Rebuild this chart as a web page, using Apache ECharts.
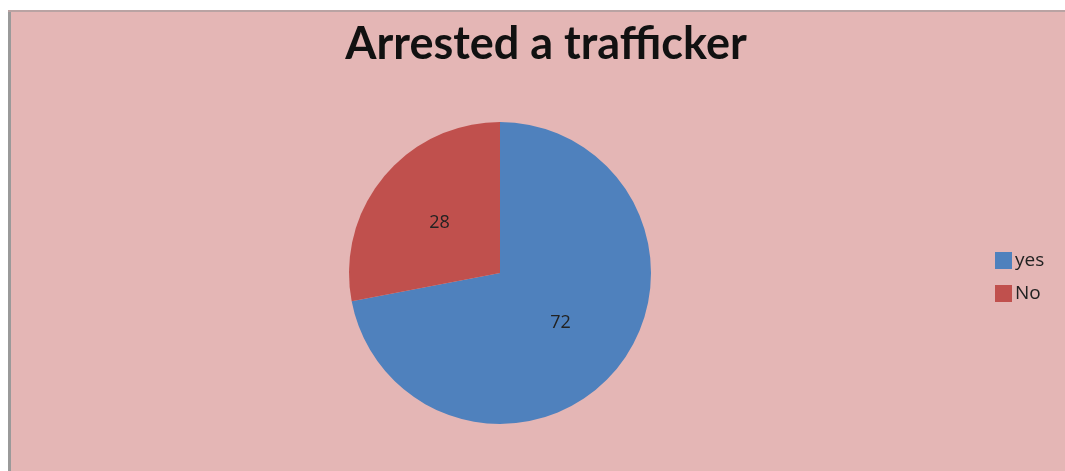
<!DOCTYPE html>
<html>
<head>
<meta charset="utf-8">
<script src="https://cdn.jsdelivr.net/npm/echarts@6/dist/echarts.min.js"></script>
<style>
  html, body { margin: 0; padding: 0; background: #ffffff; }
  #chart { width: 1065px; height: 471px; }
</style>
</head>
<body>
<div id="chart"></div>
<script>
// Survey answers: did the respondent arrest a trafficker?
const categories = ['yes', 'No'];
const values = [72, 28];
const sliceColors = ['#4F81BD', '#C0504D'];

const chart = echarts.init(document.getElementById('chart'));

chart.setOption({
  backgroundColor: '#ffffff',
  animation: false,
  graphic: [
    // panel fill
    { type: 'rect', shape: { x: 9, y: 10, width: 1056, height: 461 }, style: { fill: '#E4B6B5' }, z: -10 },
    // panel edges
    { type: 'rect', shape: { x: 8, y: 10, width: 3, height: 461 }, style: { fill: '#9a9a9a' }, z: -9 },
    { type: 'rect', shape: { x: 8, y: 10, width: 1057, height: 2 }, style: { fill: '#b9a3a3' }, z: -9 }
  ],
  title: {
    text: 'Arrested a trafficker',
    left: 541,
    textAlign: 'center',
    top: 17,
    textStyle: {
      fontFamily: 'Lato',
      fontWeight: 'bold',
      fontSize: 45,
      color: '#111111'
    }
  },
  legend: {
    orient: 'vertical',
    left: 990,
    top: 246,
    itemWidth: 17,
    itemHeight: 17,
    itemGap: 14,
    icon: 'rect',
    data: categories,
    textStyle: { fontFamily: 'Open Sans', fontSize: 19, color: '#222222', padding: [0, 0, 0, -2] }
  },
  series: [{
    type: 'pie',
    center: [500, 273],
    radius: 151,
    startAngle: 90,
    clockwise: true,
    label: {
      show: true,
      position: 'inside',
      formatter: '{c}',
      fontFamily: 'Open Sans',
      fontSize: 18,
      color: '#222222'
    },
    labelLine: { show: false },
    emphasis: { disabled: true },
    data: categories.map((name, i) => ({
      name: name,
      value: values[i],
      itemStyle: { color: sliceColors[i] }
    }))
  }]
});
</script>
</body>
</html>
